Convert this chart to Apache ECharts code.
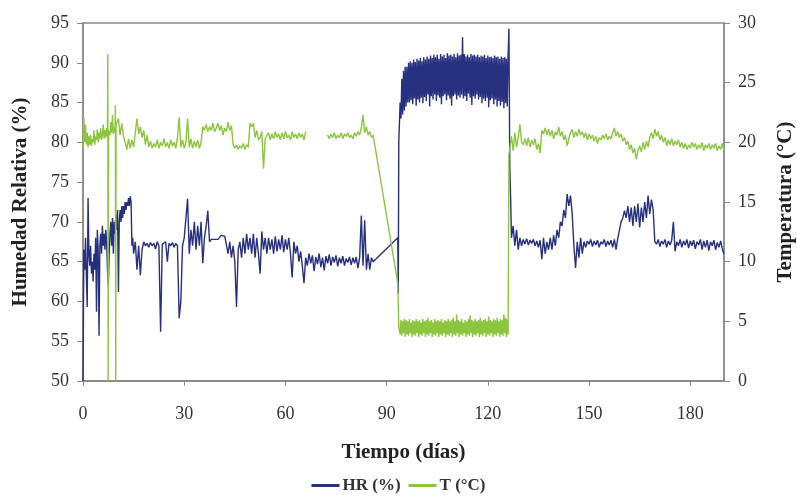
<!DOCTYPE html>
<html>
<head>
<meta charset="utf-8">
<script src="https://cdn.jsdelivr.net/npm/echarts@6/dist/echarts.min.js"></script>
<style>html,body{margin:0;padding:0;background:#fff;}#c{width:797px;height:496px;}</style>
</head>
<body>
<div id="c"></div>
<script>
// ---- Data ----
const xTicks = [0, 30, 60, 90, 120, 150, 180];
const hrName = 'HR (%)';
const tName = 'T (\u00B0C)';

// HR (%) — day 0 to 15, every 0.25 day
const hrVals1 = [50, 66.5, 64, 68, 63, 59.3, 73, 66, 64.5, 67,
  63.5, 65, 62.5, 66, 64, 68, 58.7, 69, 66.5, 55.7,
  67, 68.5, 66, 69.5, 67, 68.5, 66.5, 69, 67.5, 64,
  62, 66, 68.5, 70, 67, 70.5, 66, 70, 68.5, 71,
  69, 71.5, 61.2, 70, 71.5, 70, 72, 70.5, 72, 71,
  72.5, 71.5, 72.5, 72, 73, 72, 73.2, 72.5, 67, 68, 66];
// HR (%) — day 15.5 to 86, every 0.5 day
const hrVals2 = [67.5, 64, 67, 63.3, 66.5, 67.5, 67, 67.3, 66.8, 67.4,
  67, 67.3, 66.6, 67.5, 67, 56.2, 67.2, 67, 67.5, 65,
  67.3, 67, 67.4, 66.8, 67.3, 67, 57.9, 60, 67, 68,
  68, 72.9, 66, 69, 67, 70, 66.5, 69.5, 67, 70,
  64.8, 68, 69.5, 71.4, 67.5, 67.8, 67.7, 67.8, 67.7, 67.8,
  67.8, 68.3, 68.3, 68.2, 68.3, 66, 67.5, 65.5, 67, 65,
  59.3, 66.5, 67.5, 65.5, 68, 66, 68.5, 66.5, 68, 66,
  68.5, 65.5, 68, 66, 63.5, 68.8, 66.5, 68, 66, 68,
  66.5, 67.8, 66, 68.2, 66.3, 67.8, 66.5, 68.3, 66.2, 67.8,
  66.5, 68, 66, 63, 67.5, 66, 67, 65, 66.3, 64.5,
  62.3, 65.5, 64.5, 66, 64.8, 65.8, 63.8, 65.6, 64.7, 66,
  64.3, 65.5, 63.9, 65.7, 64.8, 65.9, 64.5, 65.6, 64.9, 65.8,
  64.4, 65.5, 64.8, 65.7, 64.5, 65.4, 64.9, 65.6, 64.6, 65.5,
  64.8, 65.6, 64.2, 65.5, 70.8, 64.5, 70.2, 64, 66, 64,
  65.5, 65];
// HR (%) — jump into the cold-storage period: [day, value]
const hrJump = [[93.3, 68], [93.45, 61], [93.6, 80]];
// HR (%) — day 93.75 to 126, every 0.25 day
const hrVals3 = [80, 85, 83, 88, 83.5, 89, 84, 89.5,
  84.5, 89.5, 85, 90, 85, 90.2, 85.3, 90,
  84.8, 90.4, 85.5, 90.1, 84.6, 90.5, 85.4, 90.3,
  85, 90.6, 85.6, 90.2, 84.9, 90.7, 85.7, 90.4,
  85.2, 90.8, 86, 90.5, 84.5, 90.9, 85.8, 90.6,
  85.4, 91, 86, 90.7, 85.2, 91, 85.9, 90.5,
  85.6, 91.1, 84.8, 90.8, 85.8, 91, 86, 90.6,
  85.3, 91.2, 85.9, 90.9, 85.5, 91, 84.6, 90.8,
  85.8, 91.1, 86, 90.7, 85.4, 91.2, 85.9, 90.9,
  85.6, 91, 86, 93.2, 85.5, 91.1, 85.8, 90.8,
  85.2, 91, 86.1, 90.7, 85.6, 91.1, 84.7, 90.9,
  85.8, 91, 85.5, 90.8, 86, 91, 85.4, 90.7,
  85.7, 90.9, 84.9, 90.8, 85.5, 91, 85.2, 90.6,
  85.6, 90.9, 84.4, 90.7, 85.3, 90.8, 85.5, 90.6,
  84.8, 90.9, 85.4, 90.7, 84.5, 90.8, 85.2, 90.5,
  84.6, 90.8, 85.1, 90.6, 84.3, 90.7, 84.9, 90.5,
  84.5, 90.8];
// HR (%) — drop at the end of the cold period: [day, value]
const hrDrop = [[126.25, 94.3], [126.5, 77], [126.75, 73], [127, 68]];
// HR (%) — day 127.5 to 190, every 0.5 day
const hrVals4 = [69.5, 67, 69, 66.5, 68, 67, 67.8, 67.2, 67.9, 67.1,
  67.7, 67.3, 67.8, 67, 67.6, 66.8, 67.7, 65.3, 68, 66,
  67.5, 66.5, 68, 66.5, 68.3, 67, 69, 68, 70, 69.5,
  71.5, 70.5, 73.5, 72, 73.3, 71, 67, 64.2, 67.5, 65.5,
  68, 66, 67.5, 66.8, 67.6, 67.2, 67.8, 66.9, 67.6, 67.1,
  67.7, 66.8, 67.5, 67.2, 67.8, 66.9, 67.6, 67.1, 67.7, 66.8,
  67.8, 66.5, 67.9, 68, 70, 70.5, 71.4, 70.5, 72, 70,
  71.8, 69.5, 72, 70, 72.3, 69.3, 71.8, 70, 72.5, 70.5,
  73.3, 71, 72.8, 71.5, 67.5, 67.2, 67.8, 66.9, 67.6, 67.2,
  67.8, 66.8, 67.6, 67.1, 67.7, 70, 66.3, 67.5, 67, 67.8,
  66.8, 67.6, 67.1, 67.8, 66.7, 67.6, 67, 67.7, 66.6, 67.5,
  67.1, 67.8, 66.5, 67.6, 66.8, 67.7, 66.4, 67.5, 67, 67.7,
  66.5, 67.4, 66.8, 67.6, 66.6, 66];

// T (°C) — day 0 to 7.25, every 0.25 day
const tVals1 = [19.5, 22, 20, 21.5, 19.8, 20.8, 19.6, 20.5, 19.8, 20.6,
  19.7, 20.3, 20, 21, 19.8, 20.5, 20.2, 21.1, 20, 20.8,
  20.3, 21.2, 20.2, 20.6, 21.5, 20.3, 21, 20.4, 21.2, 20.5];
const tSpike1 = [[7.35, 27.4], [7.45, 0], [7.55, 21]];
// T (°C) — day 7.75 to 9.5, every 0.25 day
const tVals2 = [21, 20.6, 21.7, 20.8, 22.3, 20.7, 21.3, 20.9];
const tSpike2 = [[9.6, 23.1], [9.7, 0], [9.8, 21.5]];
// T (°C) — day 10 to 66, every 0.5 day
const tVals3 = [21.5, 22, 20.6, 21.6, 20.5, 20, 19.4, 20.3, 19.5, 20.2,
  19.6, 20.8, 22, 20.7, 21.3, 20.4, 21, 19.8, 20.6, 19.6,
  20.1, 19.5, 19.9, 19.6, 20.2, 19.5, 20, 19.7, 20.3, 19.6,
  20, 19.5, 20.2, 19.7, 20, 19.5, 20.4, 22.1, 19.6, 20.2,
  19.5, 20, 22, 19.6, 20.3, 19.5, 20.1, 19.6, 20.2, 19.5,
  20, 21.3, 21, 21.5, 20.9, 21.3, 21, 21.6, 20.9, 21.2,
  21.6, 21, 21.4, 20.6, 21.2, 20.9, 21.7, 21, 21.4, 19.8,
  19.5, 19.8, 19.4, 19.7, 19.5, 19.9, 19.4, 19.8, 19.6, 21.6,
  21.3, 21.6, 20.4, 21, 20.2, 20.4, 20.9, 17.8, 20.3, 20.4,
  20.8, 20.2, 20.7, 20.3, 20.9, 20.4, 20.7, 20.2, 20.8, 20.3,
  20.9, 20.4, 20.6, 20.2, 20.9, 20.4, 20.7, 20.3, 20.8, 20.4,
  20.7, 20.2, 20.9];
// T (°C) — no record between day 66 and 72.5
const tGap = [[69, '-']];
// T (°C) — day 72.5 to 86, every 0.5 day
const tVals4 = [20.6, 20.3, 20.7, 20.4, 20.8, 20.3, 20.6, 20.4, 20.8, 20.3,
  20.7, 20.5, 20.8, 20.4, 20.6, 20.3, 20.8, 20.5, 20.9, 20.6,
  21.2, 22.3, 20.8, 21.3, 20.6, 20.9, 20.4, 20.6];
const tDrop = [[93.3, 8.2], [93.6, 4.5]];
// T (°C) — day 93.75 to 126, every 0.25 day
const tVals5 = [4.6, 3.9, 5.1, 3.8, 5.0, 4.0, 5.2, 3.7, 5.1, 3.9,
  5.0, 3.8, 5.2, 4.0, 4.9, 3.7, 5.1, 3.9, 5.0, 3.8,
  5.2, 4.0, 5.0, 3.7, 5.1, 3.9, 4.9, 3.8, 5.2, 4.0,
  5.0, 3.7, 5.1, 3.9, 5.3, 3.8, 5.0, 4.0, 5.1, 3.7,
  4.9, 3.9, 5.2, 3.8, 5.0, 4.0, 5.1, 3.7, 5.0, 3.9,
  5.2, 3.8, 4.9, 4.0, 5.1, 3.7, 5.0, 3.9, 5.2, 3.8,
  5.0, 4.0, 5.1, 3.7, 5.3, 3.9, 5.0, 3.8, 5.6, 4.0,
  5.1, 3.7, 5.0, 3.9, 5.2, 3.8, 4.9, 4.0, 5.1, 3.7,
  5.0, 3.9, 5.2, 3.8, 5.5, 4.0, 5.1, 3.7, 5.0, 3.9,
  5.2, 3.8, 5.0, 4.0, 5.1, 3.7, 5.3, 3.9, 5.0, 3.8,
  5.1, 4.0, 5.2, 3.7, 5.0, 3.9, 5.4, 3.8, 5.1, 4.0,
  5.0, 3.7, 5.2, 3.9, 5.1, 3.8, 5.3, 4.0, 5.0, 3.7,
  5.2, 3.9, 5.1, 3.8, 5.6, 4.0, 5.3, 3.7, 5.2, 3.9];
const tRise = [[126.25, 19]];
// T (°C) — day 126.5 to 190, every 0.5 day
const tVals6 = [19.5, 20.5, 19.3, 20.8, 19.6, 20.4, 21.5, 20, 19.8, 20.3,
  19.7, 20.4, 19.6, 20.2, 19.8, 20.3, 19.4, 19.9, 19.1, 21,
  20.7, 21.2, 20.6, 21.1, 20.5, 21, 20.3, 20.9, 20.6, 21.3,
  20.5, 20.9, 20.2, 20.6, 19.7, 20.3, 20.8, 21.1, 20.4, 20.9,
  20.5, 21.1, 20.6, 20.9, 20.4, 20.8, 20.2, 20.7, 20.3, 20.6,
  20.1, 20.5, 19.9, 20.4, 20.2, 20.6, 20.3, 20.7, 20.2, 20.5,
  20.3, 20.8, 21.2, 20.5, 20.9, 20.4, 20.7, 20.1, 20.4, 19.8,
  20.1, 19.4, 19.8, 19.1, 19.5, 18.6, 19.3, 19.7, 19.2, 20,
  19.4, 20.1, 19.6, 20.4, 20.8, 20.3, 21.1, 20.5, 20.9, 20.2,
  20.6, 20, 20.4, 19.7, 20.2, 19.8, 20.3, 19.7, 20.1, 19.8,
  20.2, 19.6, 20, 19.5, 19.9, 19.4, 19.8, 19.5, 20, 19.6,
  19.9, 19.4, 19.8, 19.5, 20, 19.3, 19.8, 19.5, 19.9, 19.4,
  19.8, 19.5, 19.9, 19.3, 19.7, 19.4, 19.9, 19.3];

// ---- Build series data ----
function seg(start, step, vals) {
  return vals.map((v, i) => [Math.round((start + i * step) * 1000) / 1000, v]);
}
const hrData = [].concat(
  seg(0, 0.25, hrVals1), seg(15.5, 0.5, hrVals2), hrJump,
  seg(93.75, 0.25, hrVals3), hrDrop, seg(127.5, 0.5, hrVals4));
const tData = [].concat(
  seg(0, 0.25, tVals1), tSpike1, seg(7.75, 0.25, tVals2), tSpike2,
  seg(10, 0.5, tVals3), tGap, seg(72.5, 0.5, tVals4), tDrop,
  seg(93.75, 0.25, tVals5), tRise, seg(126.5, 0.5, tVals6));

const FONT = 'Liberation Serif';
const AX = '#8a8a8a';
const HR_COLOR = '#26307f';
const T_COLOR = '#8cc63f';
const TITLE = {fontFamily: FONT, fontSize: 21, fontWeight: 'bold', color: '#222'};
const TICK = {fontFamily: FONT, fontSize: 18, color: '#333'};
const chart = echarts.init(document.getElementById('c'), null, {renderer: 'canvas'});
chart.setOption({
  animation: false,
  backgroundColor: '#ffffff',
  grid: {left: 83, right: 73, top: 23, bottom: 115, show: true, containLabel: false,
    outerBoundsMode: 'none',
    borderColor: AX, borderWidth: 1.5, backgroundColor: 'transparent'},
  legend: {
    top: 472, left: 'center', icon: 'rect', itemWidth: 28, itemHeight: 3, itemGap: 8,
    textStyle: {fontFamily: FONT, fontSize: 17, fontWeight: 'bold', color: '#333', padding: [0, 0, 0, -2]},
    data: [hrName, tName]
  },
  xAxis: {
    type: 'value', min: 0, max: 190, interval: 30,
    name: 'Tiempo (d\u00EDas)', nameLocation: 'middle', nameGap: 61,
    nameTextStyle: TITLE,
    axisLine: {show: true, lineStyle: {color: AX, width: 2}},
    axisTick: {show: true, inside: false, length: 5, lineStyle: {color: AX}},
    axisLabel: Object.assign({margin: 24, showMaxLabel: false,
      formatter: v => xTicks.indexOf(v) >= 0 ? String(v) : ''}, TICK),
    splitLine: {show: false}
  },
  yAxis: [{
    type: 'value', min: 50, max: 95, interval: 5, position: 'left',
    name: 'Humedad Relativa (%)', nameLocation: 'middle', nameGap: 52, nameRotate: 90,
    nameTextStyle: TITLE,
    axisLine: {show: true, lineStyle: {color: AX, width: 1.5}},
    axisTick: {show: true, inside: false, length: 6, lineStyle: {color: AX}},
    axisLabel: Object.assign({margin: 14}, TICK),
    splitLine: {show: false}
  }, {
    type: 'value', min: 0, max: 30, interval: 5, position: 'right',
    name: 'Temperatura (\u00B0C)', nameLocation: 'middle', nameGap: 51, nameRotate: 90,
    nameTextStyle: TITLE,
    axisLine: {show: true, lineStyle: {color: AX, width: 1.5}},
    axisTick: {show: true, inside: false, length: 6, lineStyle: {color: AX}},
    axisLabel: Object.assign({margin: 14}, TICK),
    splitLine: {show: false}
  }],
  series: [{
    name: hrName, type: 'line', yAxisIndex: 0, data: hrData,
    showSymbol: false, symbol: 'none', sampling: null,
    lineStyle: {color: HR_COLOR, width: 1.4}, itemStyle: {color: HR_COLOR}
  }, {
    name: tName, type: 'line', yAxisIndex: 1, data: tData,
    showSymbol: false, symbol: 'none', sampling: null, connectNulls: false,
    lineStyle: {color: T_COLOR, width: 1.4}, itemStyle: {color: T_COLOR}
  }]
});
</script>
</body>
</html>
